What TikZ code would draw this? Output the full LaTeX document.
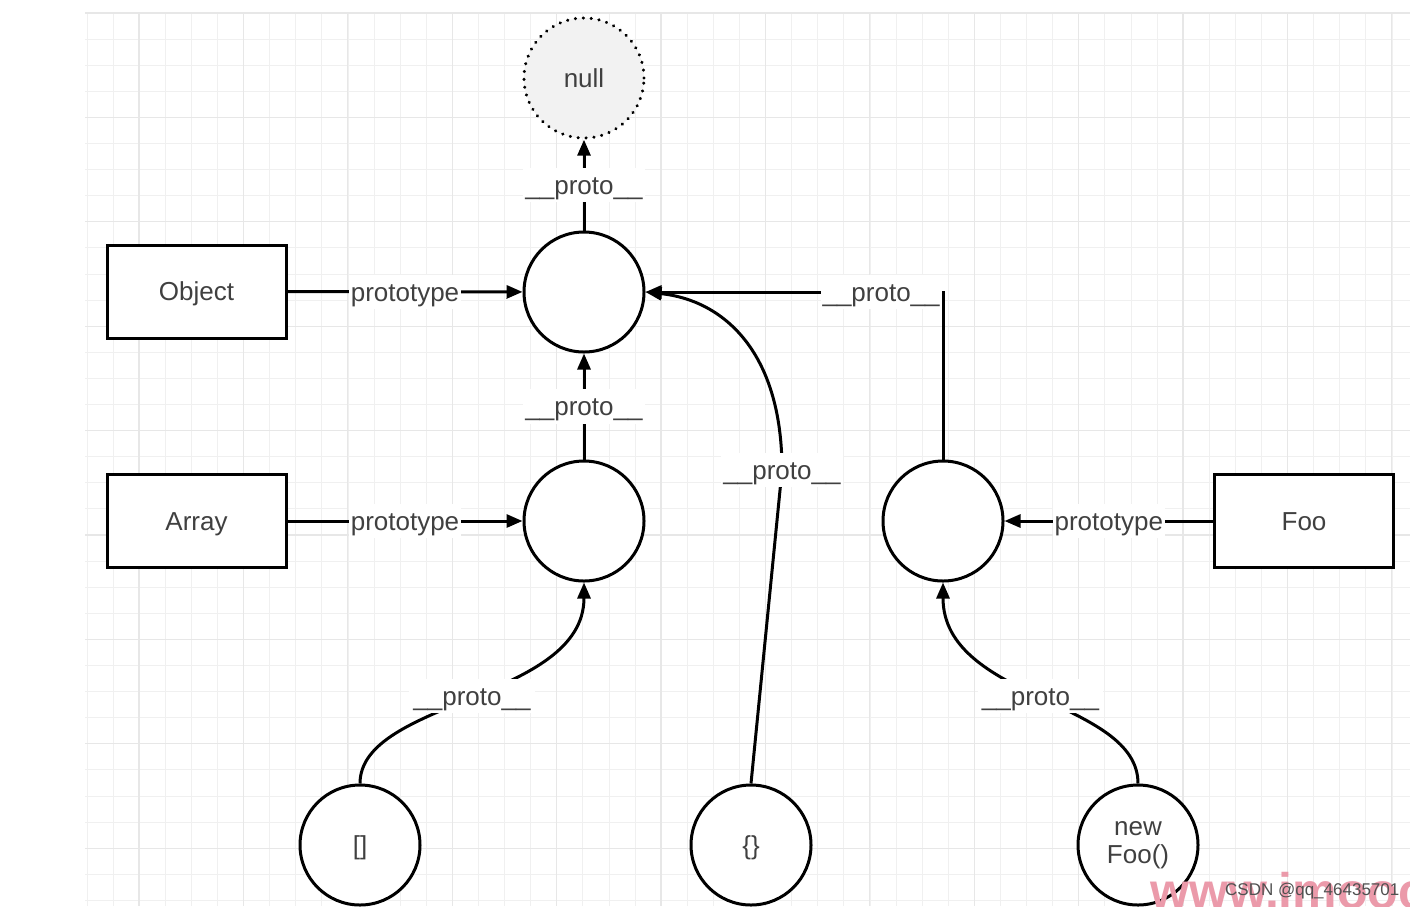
\documentclass[tikz,border=0pt]{standalone}
\usepackage{fontspec}
\setmainfont{Liberation Sans}
\usetikzlibrary{arrows.meta}
\definecolor{txtgray}{HTML}{404040}
\definecolor{minorgrid}{HTML}{F0F0F0}
\definecolor{majorgrid}{HTML}{E7E7E7}
\definecolor{nullgray}{HTML}{F2F2F2}
\definecolor{wmpink}{HTML}{EB9AAA}
\definecolor{csdngray}{HTML}{505050}
\begin{document}
\begin{tikzpicture}[x=1pt,y=-1pt,
  every node/.style={font=\fontsize{26}{28}\selectfont, text=txtgray},
  tx/.style={text height=18.5pt, text depth=0pt},
  circ/.style={circle, draw=black, line width=3pt, minimum size=120pt, inner sep=0pt, fill=white},
  nullcirc/.style={circle, draw=black, line width=3.4pt, line cap=round, dash pattern=on 0.01pt off 7.9pt, minimum size=120pt, inner sep=0pt, fill=nullgray},
  box/.style={draw=black, line width=3pt, minimum width=179pt, minimum height=93pt, fill=white},
  conn/.style={line width=3pt, draw=black},
  arr/.style={conn, -{Triangle[length=16pt,width=13pt]}},
  lbl/.style={text height=23.5pt, text depth=5pt, fill=white, inner xsep=2pt, inner ysep=3pt},
]
\useasboundingbox (0,0) rectangle (1410,906);
\clip (0,0) rectangle (1410,906);
\fill[white] (0,0) rectangle (1410,906);
% grid
\foreach \i in {0,...,50} {
  \draw[minorgrid, line width=1pt] ({87+26.1*\i},13) -- ({87+26.1*\i},906);
}
\foreach \j in {0,...,34} {
  \draw[minorgrid, line width=1pt] (85,{13+26.1*\j}) -- (1410,{13+26.1*\j});
}
\foreach \i in {0,...,12} {
  \draw[majorgrid, line width=1.2pt] ({139+104.4*\i},13) -- ({139+104.4*\i},906);
}
\foreach \j in {0,...,8} {
  \draw[majorgrid, line width=1.2pt] (85,{13+104.4*\j}) -- (1410,{13+104.4*\j});
}

% nodes
\node[nullcirc, tx] (null) at (584,78) {null};
\node[circ] (O1) at (584,292) {};
\node[circ] (A1) at (584,521) {};
\node[circ] (F1) at (943,521) {};
\node[circ, tx] (B) at (360,845) {[]};
\node[circ, tx] (C) at (751,845) {\{\}};
\node[circ, align=center] (NF) at (1138,845) {new\\Foo()};
\node[box, tx] (Obj) at (196.5,291.5) {Object};
\node[box, tx] (Arr) at (196.5,521) {Array};
\node[box, tx] (Foo) at (1304,521) {Foo};

% connectors
\draw[arr] (O1) -- node[lbl]{\_\_proto\_\_} (null);
\draw[arr] (Obj) -- node[lbl]{prototype} (O1);
\draw[arr] (A1) -- node[lbl]{\_\_proto\_\_} (O1);
\draw[arr] (Arr) -- node[lbl]{prototype} (A1);
\draw[arr] (Foo) -- node[lbl]{prototype} (F1);
\draw[arr] (F1.north) |- node[lbl, pos=0.604]{\_\_proto\_\_} (O1.east);
\coordinate (cbend) at (782,470);
\draw[arr] (C.north) -- (cbend) .. controls (782,350) and (722,300) .. (O1.east);
\node[lbl] (clabel) at (cbend) {\_\_proto\_\_};
\draw[arr] (B.north) .. controls (360,700) and (584,700) .. node[lbl, inner xsep=4pt]{\_\_proto\_\_} (A1.south);
\draw[arr] (NF.north) .. controls (1138,700) and (943,700) .. node[lbl, inner xsep=4pt]{\_\_proto\_\_} (F1.south);

% watermarks
\node[anchor=base west, inner sep=0pt, text=wmpink, font=\fontsize{50}{50}\selectfont\bfseries] (wm) at (1150,908) {www.imooc};
\node[anchor=base west, inner sep=0pt, text=csdngray, font=\fontsize{17}{19}\selectfont] (csdn) at (1225,895) {CSDN @qq\_46435701};
\end{tikzpicture}
\end{document}
